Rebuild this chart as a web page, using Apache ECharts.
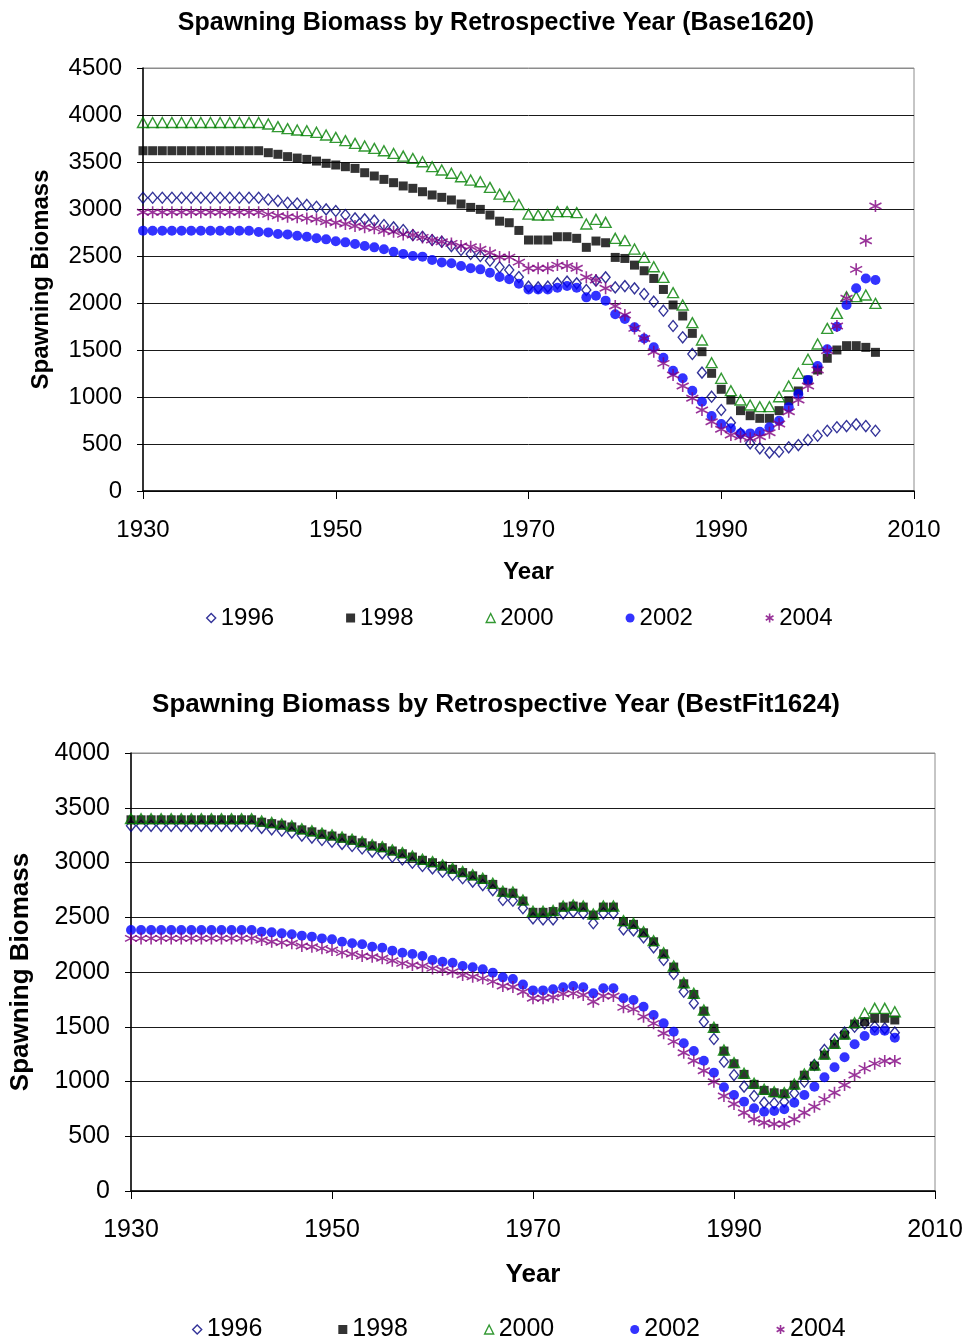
<!DOCTYPE html>
<html>
<head>
<meta charset="utf-8">
<title>Spawning Biomass by Retrospective Year</title>
<script src="https://cdn.jsdelivr.net/npm/echarts@6/dist/echarts.min.js"></script>
<style>
  html, body { margin: 0; padding: 0; background: #fff; }
  #top, #bottom { width: 968px; height: 670px; }
</style>
</head>
<body>
<div id="top"></div>
<div id="bottom"></div>
<script>
// Model years shown on the x axis
const YEARS = [
  1930,1931,1932,1933,1934,1935,1936,1937,1938,1939,
  1940,1941,1942,1943,1944,1945,1946,1947,1948,1949,
  1950,1951,1952,1953,1954,1955,1956,1957,1958,1959,
  1960,1961,1962,1963,1964,1965,1966,1967,1968,1969,
  1970,1971,1972,1973,1974,1975,1976,1977,1978,1979,
  1980,1981,1982,1983,1984,1985,1986,1987,1988,1989,
  1990,1991,1992,1993,1994,1995,1996,1997,1998,1999,
  2000,2001,2002,2003,2004,2005,2006
];

// Retrospective runs (legend names)
const RUNS = ['1996', '1998', '2000', '2002', '2004'];

// ---- Base1620: spawning biomass per retrospective run ----
const base_1996 = [
  3120,3120,3120,3120,3120,3120,3120,3120,3120,3120,3120,3120,3120,
  3101,3087,3066,3058,3043,3024,2996,2979,2936,2900,2890,2876,2830,2805,2776,2723,
  2705,2670,2652,2606,2564,2521,2500,2450,2380,2351,2276,2174,2166,2174,2209,2227,
  2209,2138,2238,2273,2166,2180,2156,2095,2014,1918,1755,1635,1458,1259,1003,862,
  727,613,507,454,408,418,465,489,543,588,641,678,691,709,691,641
];
const base_1998 = [
  3620,3620,3620,3620,3620,3620,3620,3620,3620,3620,3620,3620,3620,
  3599,3582,3557,3542,3528,3510,3486,3468,3450,3432,3386,3351,3315,3280,3245,3220,
  3184,3149,3124,3096,3053,3017,2996,2936,2870,2854,2772,2670,2670,2670,2705,2705,
  2688,2592,2659,2641,2485,2474,2403,2343,2261,2144,1979,1862,1677,1482,1252,1082,
  968,855,801,773,773,855,961,1064,1181,1287,1412,1500,1546,1546,1528,1475
];
const base_2000 = [
  3920,3920,3920,3920,3920,3920,3920,3920,3920,3920,3920,3920,3920,
  3904,3876,3855,3840,3833,3816,3787,3762,3727,3698,3670,3645,3620,3591,3563,3538,
  3503,3450,3415,3380,3343,3308,3290,3230,3158,3131,3048,2945,2936,2936,2972,2972,
  2961,2840,2890,2858,2688,2663,2574,2485,2386,2273,2110,1979,1791,1606,1365,1199,
  1067,968,915,897,897,1003,1117,1252,1401,1564,1730,1890,2067,2067,2085,1996
];
const base_2002 = [
  2769,2769,2769,2769,2769,2769,2769,2769,2769,2769,2769,2769,2755,
  2751,2734,2730,2716,2705,2688,2677,2656,2645,2627,2606,2592,2571,2546,2521,2500,
  2493,2457,2432,2422,2393,2369,2358,2322,2276,2252,2205,2144,2144,2144,2163,2180,
  2163,2060,2078,2025,1880,1830,1741,1623,1528,1418,1280,1199,1067,950,798,713,
  667,613,613,631,678,748,890,1032,1181,1330,1507,1748,1979,2156,2261,2245
];
const base_2004 = [
  2965,2965,2965,2965,2965,2965,2965,2965,2965,2965,2965,2965,2965,
  2943,2929,2918,2911,2900,2890,2865,2854,2840,2819,2805,2794,2769,2758,2730,2723,
  2698,2670,2652,2634,2606,2599,2571,2535,2490,2488,2435,2369,2369,2369,2403,2393,
  2369,2273,2245,2156,1968,1872,1730,1623,1482,1358,1234,1117,986,862,737,656,
  596,578,560,578,620,713,844,968,1117,1287,1493,1755,2050,2358,2663,3032
];

// ---- BestFit1624: spawning biomass per retrospective run ----
const best_1996 = [
  3335,3335,3335,3335,3335,3335,3335,3335,3335,3335,3335,3335,3335,
  3316,3303,3290,3273,3246,3228,3206,3190,3170,3151,3128,3100,3083,3053,3028,2998,
  2968,2946,2916,2886,2856,2826,2794,2748,2658,2651,2582,2490,2481,2481,2536,2551,
  2536,2445,2536,2536,2390,2380,2317,2225,2110,1982,1820,1714,1546,1388,1181,1059,
  953,868,807,801,816,892,998,1151,1288,1385,1446,1500,1531,1500,1485,1446
];
const best_1998 = [
  3390,3390,3390,3390,3390,3390,3390,3390,3390,3390,3390,3390,3390,
  3368,3355,3342,3325,3298,3280,3258,3242,3222,3203,3180,3152,3135,3105,3080,3050,
  3020,2998,2968,2938,2908,2878,2846,2800,2728,2720,2648,2545,2545,2552,2593,2602,
  2593,2520,2593,2593,2459,2435,2358,2276,2166,2045,1892,1795,1643,1485,1278,1162,
  1065,974,919,897,888,967,1058,1141,1241,1339,1424,1525,1546,1577,1577,1562
];
const best_2000 = [
  3400,3400,3400,3400,3400,3400,3400,3400,3400,3400,3400,3400,3400,
  3378,3365,3352,3335,3308,3290,3268,3252,3232,3213,3190,3162,3145,3115,3090,3060,
  3030,3008,2978,2948,2918,2888,2856,2810,2738,2730,2658,2555,2555,2562,2603,2612,
  2603,2530,2603,2603,2469,2445,2368,2286,2176,2055,1902,1805,1653,1495,1288,1172,
  1075,984,929,907,898,977,1068,1151,1251,1349,1434,1537,1623,1668,1668,1637
];
const best_2002 = [
  2383,2383,2383,2383,2383,2383,2383,2383,2383,2383,2383,2383,2383,
  2368,2362,2353,2344,2332,2323,2307,2298,2277,2262,2253,2231,2222,2195,2176,2164,
  2146,2110,2094,2085,2055,2043,2024,1994,1951,1935,1885,1832,1832,1842,1860,1872,
  1860,1805,1851,1851,1760,1744,1683,1607,1531,1455,1349,1279,1190,1081,947,877,
  816,755,724,731,746,807,877,953,1038,1130,1221,1340,1416,1464,1464,1400
];
const best_2004 = [
  2307,2307,2307,2307,2307,2307,2307,2307,2307,2307,2307,2307,2307,
  2292,2277,2268,2262,2237,2231,2216,2201,2177,2164,2146,2140,2125,2103,2079,2064,
  2055,2033,2018,2003,1973,1957,1942,1912,1872,1863,1820,1760,1760,1769,1799,1805,
  1790,1729,1781,1781,1677,1659,1592,1531,1440,1364,1263,1190,1099,998,868,795,
  715,655,624,612,612,655,715,770,837,898,968,1059,1120,1163,1187,1187
];

const FONT = "'Liberation Sans', Arial, Helvetica, sans-serif";
const STAR = 'path://M5,0L5,10M0.7,2.5L9.3,7.5M0.7,7.5L9.3,2.5';

// Marker look for each run, in legend order
const MARKERS = {
  '1996': { symbol: 'diamond', size: [9, 11], style: { color: 'rgba(0,0,0,0)', borderColor: '#000080', borderWidth: 1.4 } },
  '1998': { symbol: 'rect',    size: [9, 9],  style: { color: '#000000' } },
  '2000': { symbol: 'triangle',size: [11, 10],style: { color: 'rgba(0,0,0,0)', borderColor: '#008000', borderWidth: 1.4 } },
  '2002': { symbol: 'circle',  size: [10, 10],style: { color: '#0000FF' } },
  '2004': { symbol: STAR,      size: [12, 12],style: { color: 'rgba(0,0,0,0)', borderColor: '#800080', borderWidth: 1.6 } }
};

function buildSeries(valuesByRun) {
  return RUNS.map(run => {
    const m = MARKERS[run];
    return {
      name: run,
      type: 'scatter',
      symbol: m.symbol,
      symbolSize: m.size,
      itemStyle: m.style,
      emphasis: { disabled: true },
      animation: false,
      data: YEARS.map((y, i) => [y, valuesByRun[run][i]])
    };
  });
}

function legendData() {
  return RUNS.map(run => ({
    name: run,
    icon: MARKERS[run].symbol,
    itemStyle: MARKERS[run].style
  }));
}

function buildOption(cfg) {
  const nLines = cfg.yMax / 500 + 1;
  const splitColors = [];
  for (let i = 0; i < nLines; i++) splitColors.push(i === nLines - 1 ? '#8c8c8c' : '#1a1a1a');
  return {
    backgroundColor: '#fff',
    animation: false,
    title: {
      text: cfg.title,
      left: cfg.titleCenter,
      textAlign: 'center',
      top: cfg.titleTop,
      textStyle: { fontFamily: FONT, fontSize: cfg.titleSize, fontWeight: 'bold', color: '#000' }
    },
    legend: {
      data: legendData(),
      left: cfg.legendLeft,
      top: cfg.legendTop,
      itemWidth: 9,
      itemHeight: 9,
      itemGap: cfg.legendGap,
      itemTextGap: cfg.legendTextGap,
      selectedMode: false,
      textStyle: { fontFamily: FONT, fontSize: cfg.textSize, color: '#000' }
    },
    grid: {
      left: cfg.grid.left, right: cfg.grid.right, top: cfg.grid.top, height: cfg.grid.height,
      show: true, borderColor: '#8c8c8c', borderWidth: 1, backgroundColor: '#fff'
    },
    xAxis: {
      type: 'value',
      min: 1930, max: 2010, interval: 20,
      name: 'Year',
      nameLocation: 'middle',
      nameGap: cfg.xNameGap,
      nameTextStyle: { fontFamily: FONT, fontSize: cfg.nameSize, fontWeight: 'bold', color: '#000' },
      axisLine: { show: true, lineStyle: { color: '#000', width: 1.5 } },
      axisTick: { show: true, inside: false, length: 8, lineStyle: { color: '#000' } },
      axisLabel: { fontFamily: FONT, fontSize: cfg.textSize, color: '#000', margin: 27, formatter: v => String(v) },
      splitLine: { show: false }
    },
    yAxis: {
      type: 'value',
      min: 0, max: cfg.yMax, interval: 500,
      name: 'Spawning Biomass',
      nameLocation: 'middle',
      nameGap: cfg.yNameGap,
      nameTextStyle: { fontFamily: FONT, fontSize: cfg.nameSize, fontWeight: 'bold', color: '#000' },
      axisLine: { show: true, lineStyle: { color: '#000', width: 1.5 } },
      axisTick: { show: true, inside: false, length: 6, lineStyle: { color: '#000' } },
      axisLabel: { fontFamily: FONT, fontSize: cfg.textSize, color: '#000', margin: 21, formatter: v => String(v) },
      splitLine: { show: true, lineStyle: { color: splitColors, width: 1 } }
    },
    series: buildSeries(cfg.values)
  };
}

const topChart = echarts.init(document.getElementById('top'), null, { renderer: 'canvas' });
topChart.setOption(buildOption({
  title: 'Spawning Biomass by Retrospective Year (Base1620)',
  titleCenter: 491,
  titleTop: 6,
  titleSize: 25,
  nameSize: 24,
  textSize: 24,
  legendLeft: 201,
  legendTop: 601,
  legendGap: 72,
  legendTextGap: 10,
  grid: { left: 143, right: 54, top: 68, height: 423 },
  xNameGap: 69,
  yNameGap: 90,
  yMax: 4500,
  values: { '1996': base_1996, '1998': base_1998, '2000': base_2000, '2002': base_2002, '2004': base_2004 }
}));

const bottomChart = echarts.init(document.getElementById('bottom'), null, { renderer: 'canvas' });
bottomChart.setOption(buildOption({
  title: 'Spawning Biomass by Retrospective Year (BestFit1624)',
  titleCenter: 491,
  titleTop: 17,
  titleSize: 26,
  nameSize: 26,
  textSize: 25,
  legendLeft: 187,
  legendTop: 642,
  legendGap: 76,
  legendTextGap: 11,
  grid: { left: 131, right: 33, top: 83, height: 438 },
  xNameGap: 71,
  yNameGap: 97,
  yMax: 4000,
  values: { '1996': best_1996, '1998': best_1998, '2000': best_2000, '2002': best_2002, '2004': best_2004 }
}));
</script>
</body>
</html>
